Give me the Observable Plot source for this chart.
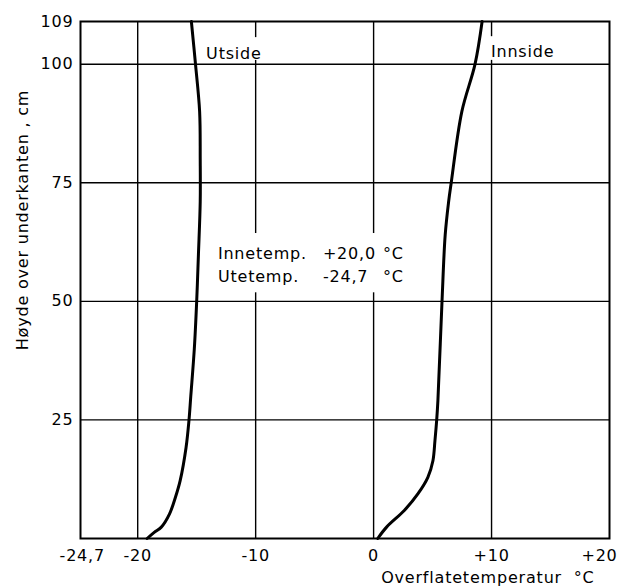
<!DOCTYPE html>
<html><head><meta charset="utf-8">
<script src="https://cdn.jsdelivr.net/npm/d3@7"></script>
<script src="https://cdn.jsdelivr.net/npm/@observablehq/plot@0.6"></script>
<style>
body{margin:0;background:#fff}
svg{font-family:"DejaVu Sans";}
</style>
</head><body><div id="chart"></div>
<script>
// Outside surface temperature profile (height cm, temperature °C)
const outsideHeight = [0, 1.3, 2.4, 5.2, 8.7, 12.2, 19.2, 25, 30, 40, 50, 60, 71, 80, 90, 100, 109];
const outsideTemp   = [-19.2, -18.6, -18.0, -17.3, -16.8, -16.4, -15.9, -15.65, -15.5, -15.2, -15.0, -14.85, -14.7, -14.7, -14.75, -15.1, -15.45];
// Inside surface temperature profile
const insideHeight = [0, 2.4, 5.9, 9.4, 12.9, 16.4, 20.6, 25, 29, 50, 64, 71, 75, 90, 100, 109];
const insideTemp   = [0.35, 1.1, 2.6, 3.75, 4.6, 5.03, 5.2, 5.35, 5.45, 5.8, 6.07, 6.36, 6.58, 7.48, 8.6, 9.2];

const xTicks = [-24.7, -20, -10, 0, 10, 20];
const xTickLabels = ["-24,7", "-20", "-10", "0", "+10", "+20"];
const yTicks = [25, 50, 75, 100, 109];
const yTickLabels = ["25", "50", "75", "100", "109"];
const xGrid = [-20, -10, 0, 10];
const yGrid = [25, 50, 75, 100];

const seriesLabels = ["Utside", "Innside"];
const noteNames = ["Innetemp.", "Utetemp."];
const noteValues = ["+20,0", "-24,7"];
const noteUnit = "°C";
const xLabel = "Overflatetemperatur  °C";
const yLabel = "Høyde over underkanten , cm";

const outside = outsideHeight.map((h, i) => ({h, t: outsideTemp[i]}));
const inside = insideHeight.map((h, i) => ({h, t: insideTemp[i]}));
const xLab = new Map(xTicks.map((d, i) => [d, xTickLabels[i]]));
const yLab = new Map(yTicks.map((d, i) => [d, yTickLabels[i]]));
const noteY = [60.1, 55.2];

const plot = Plot.plot({
  width: 620, height: 586,
  marginLeft: 80, marginRight: 11, marginTop: 21, marginBottom: 48,
  style: {fontFamily: "DejaVu Sans", fontSize: "16px", background: "white", color: "black", overflow: "visible"},
  x: {domain: [-24.85, 20]},
  y: {domain: [0, 109]},
  marks: [
    Plot.ruleX(xGrid, {stroke: "black", strokeWidth: 1.4}),
    Plot.rect([
      {x1: -13.6, x2: 3.6, y1: 51.8, y2: 64.3},
      {x1: -14.3, x2: -8.8, y1: 100.8, y2: 105.6},
      {x1: 9.8, x2: 16, y1: 100.8, y2: 105.8}
    ], {x1: "x1", x2: "x2", y1: "y1", y2: "y2", fill: "white"}),
    Plot.ruleY(yGrid, {stroke: "black", strokeWidth: 1.4}),
    Plot.frame({stroke: "black", strokeWidth: 2}),
    Plot.line(outside, {x: "t", y: "h", curve: "catmull-rom", stroke: "black", strokeWidth: 3}),
    Plot.line(inside, {x: "t", y: "h", curve: "catmull-rom", stroke: "black", strokeWidth: 3}),
    Plot.axisX({ticks: xTicks.slice(0, -1), tickFormat: d => xLab.get(d), tickSize: 0, tickPadding: 11, fontSize: 16, label: null}),
    Plot.axisX({ticks: xTicks.slice(-1), tickFormat: d => xLab.get(d), tickSize: 0, tickPadding: 11, fontSize: 16, label: null, dx: -10}),
    Plot.axisY({ticks: yTicks, tickFormat: d => yLab.get(d), tickSize: 0, tickPadding: 7, fontSize: 16, label: null}),
    Plot.text([seriesLabels[0]], {x: -14.2, y: 102.2, text: d => d, textAnchor: "start", fontSize: 16, fill: "black"}),
    Plot.text([seriesLabels[1]], {x: 9.95, y: 102.6, text: d => d, textAnchor: "start", fontSize: 16, fill: "black"}),
    Plot.text(noteNames, {x: -13.2, y: (d, i) => noteY[i], text: d => d, textAnchor: "start", fontSize: 16, fill: "black"}),
    Plot.text(noteValues, {x: -4.3, y: (d, i) => noteY[i], text: d => d, textAnchor: "start", fontSize: 16, fill: "black"}),
    Plot.text(noteNames, {x: 0.8, y: (d, i) => noteY[i], text: () => noteUnit, textAnchor: "start", fontSize: 16, fill: "black"}),
    Plot.text([xLabel], {frameAnchor: "bottom-right", text: d => d, textAnchor: "end", lineAnchor: "middle", dx: -15, dy: 39, fontSize: 16, fill: "black"}),
    Plot.text([yLabel], {frameAnchor: "left", text: d => d, textAnchor: "middle", rotate: -90, dx: -58, dy: -60, fontSize: 16, fill: "black"})
  ]
});
plot.querySelectorAll("text").forEach(t => t.style.letterSpacing = "0.8px");
document.getElementById("chart").appendChild(plot);
</script>
</body></html>
